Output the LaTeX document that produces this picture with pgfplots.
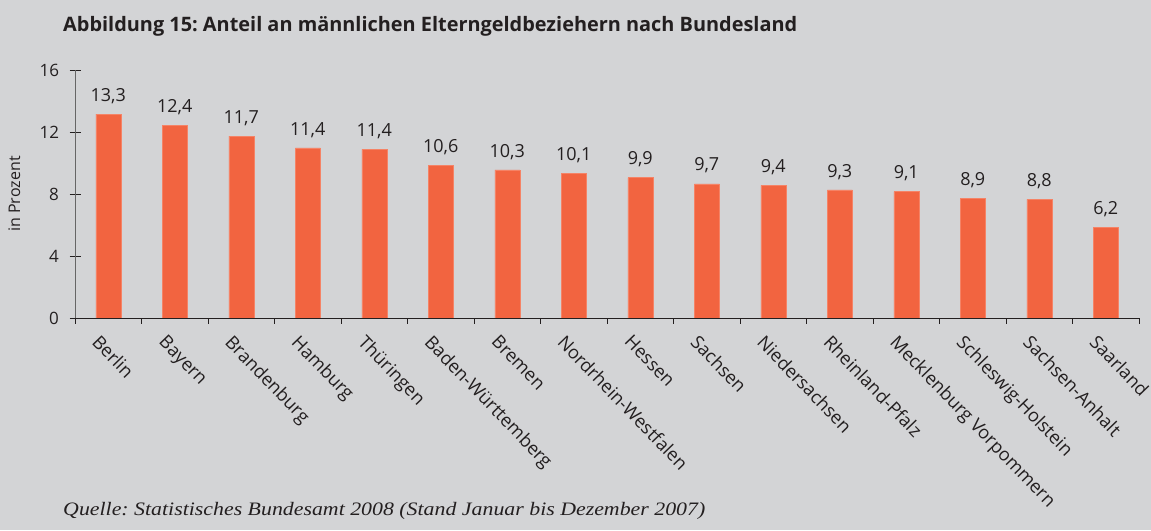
\documentclass[border=0pt]{standalone}
\usepackage{fontspec}
\setmainfont{Open Sans}
\newfontfamily\srcfont{Liberation Serif}
\usepackage{pgfplots}
\pgfplotsset{compat=1.18}
\definecolor{bg}{HTML}{D3D4D6}
\definecolor{barc}{HTML}{F26440}
\definecolor{ink}{HTML}{231F20}
\frenchspacing

\begin{document}
\begin{tikzpicture}
\fill[bg] (0,0) rectangle (1151pt,530pt);
\node[anchor=base west, inner sep=0, text=ink,
      font=\fontsize{19.9}{23}\selectfont\bfseries] at (63pt,498pt)
  {Abbildung 15: Anteil an männlichen Elterngeldbeziehern nach Bundesland};
\begin{axis}[
    at={(75pt,212pt)}, anchor=south west,
    scale only axis, width=1064pt, height=248pt,
    xmin=-0.5, xmax=15.5, ymin=0, ymax=16,
    axis x line*=bottom, axis y line*=left,
    x axis line style={draw=ink, line width=0.9pt, -},
    y axis line style={draw=black!60, line width=0.9pt, -},
    ytick={0,4,8,12,16},
    xtick={0,...,15},
    xticklabels={Berlin,Bayern,Brandenburg,Hamburg,Thüringen,Baden-Württemberg,Bremen,Nordrhein-Westfalen,Hessen,Sachsen,Niedersachsen,Rheinland-Pfalz,Mecklenburg Vorpommern,Schleswig-Holstein,Sachsen-Anhalt,Saarland},
    minor xtick={-0.5,0.5,...,15.5},
    major x tick style={draw=none},
    minor x tick style={draw=ink, line width=0.8pt},
    y tick style={draw=ink, line width=0.8pt},
    tick align=center, major tick length=11pt, minor tick length=6pt,
    ticklabel style={font=\fontsize{17}{20}\selectfont, text=ink},
    /pgf/number format/assume math mode=true,
    xticklabel style={rotate=-46, anchor=north west, xshift=-5pt, yshift=-5pt,
                      font=\fontsize{18.2}{21}\selectfont},
    yticklabel style={xshift=-7pt},
    ylabel={in Prozent},
    ylabel style={at={(axis description cs:-0.057,0.5)}, anchor=center,
                  font=\fontsize{16}{19}\selectfont, text=ink},
    ybar, bar width=25pt,
    point meta=explicit symbolic,
    nodes near coords,
    every node near coord/.append style={font=\fontsize{18}{21}\selectfont, text=ink, yshift=7pt},
]
\addplot[fill=barc, draw=barc!80!white, line width=0.5pt] coordinates {
(0,13.16) [13,3]
(1,12.45) [12,4]
(2,11.74) [11,7]
(3,10.97) [11,4]
(4,10.88) [11,4]
(5,9.85) [10,6]
(6,9.55) [10,3]
(7,9.35) [10,1]
(8,9.05) [9,9]
(9,8.66) [9,7]
(10,8.56) [9,4]
(11,8.26) [9,3]
(12,8.15) [9,1]
(13,7.74) [8,9]
(14,7.66) [8,8]
(15,5.85) [6,2]
};
\end{axis}
\node[anchor=base west, inner sep=0, text=ink, xscale=1.15,
      font=\srcfont\itshape\fontsize{19}{21}\selectfont] at (63pt,14pt)
  {Quelle: Statistisches Bundesamt 2008 (Stand Januar bis Dezember 2007)};
\pgfresetboundingbox
\path (0,0) rectangle (1151pt,530pt);
\end{tikzpicture}
\end{document}
